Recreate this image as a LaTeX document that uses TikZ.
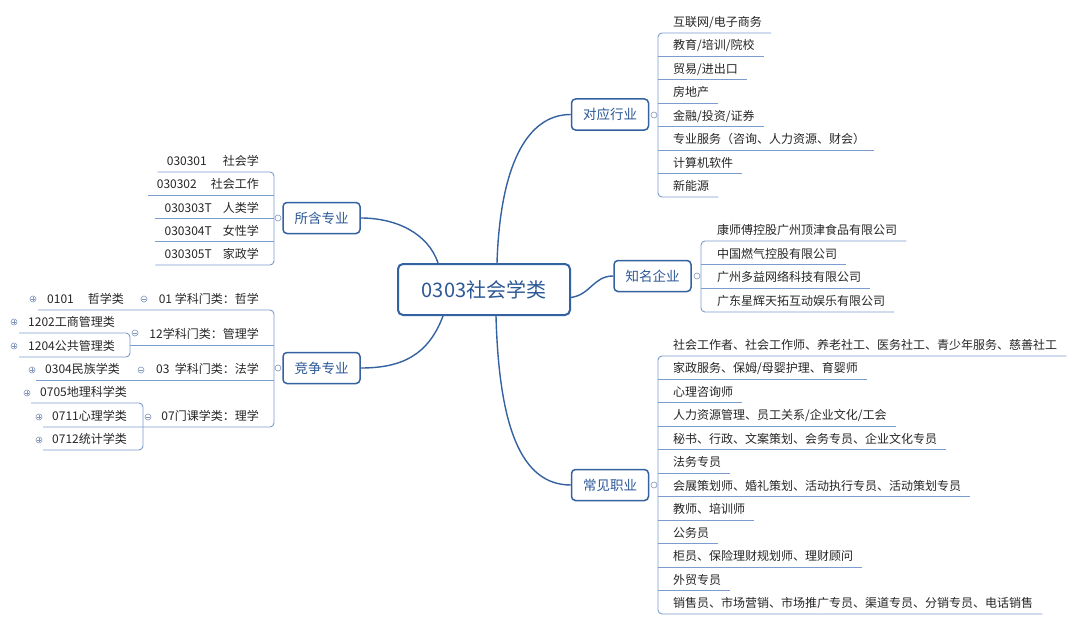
\documentclass[tikz,border=0pt]{standalone}
\usepackage{fontspec}
\setmainfont{Noto Sans CJK SC}
\usetikzlibrary{positioning,calc}
\definecolor{rootcolor}{RGB}{44,88,150}
\definecolor{branchcolor}{RGB}{52,98,160}
\definecolor{linecolor}{RGB}{122,156,206}
\definecolor{markcolor}{RGB}{128,150,186}

\begin{document}
\begin{tikzpicture}[x=1pt, y=-1pt,
    root/.style={
        rectangle, draw=branchcolor, line width=2pt, rounded corners=5pt,
        minimum width=172pt, minimum height=51pt, fill=white,
        text=rootcolor, font=\fontsize{20}{24}\selectfont
    },
    branch/.style={
        rectangle, draw=branchcolor, line width=1.5pt, rounded corners=4pt,
        minimum width=77pt, minimum height=31pt, fill=white,
        text=rootcolor, font=\fontsize{13.5}{16}\selectfont
    },
    leaf/.style={inner xsep=9pt, inner ysep=0pt, text=black!85, font=\fontsize{12}{14}\selectfont},
    mainlink/.style={draw=branchcolor, line width=1.4pt},
    underline/.style={draw=linecolor, line width=0.9pt},
    bracket/.style={underline, rounded corners=4pt},
    toggle/.style={circle, draw=markcolor, fill=white, inner sep=0pt, minimum size=6pt, line width=0.6pt},
    minustoggle/.style={toggle, path picture={
        \draw[markcolor, line width=0.5pt] ([xshift=-1.6pt]path picture bounding box.center) -- ([xshift=1.6pt]path picture bounding box.center);}},
    plustoggle/.style={toggle, path picture={
        \draw[markcolor, line width=0.5pt] ([xshift=-1.6pt]path picture bounding box.center) -- ([xshift=1.6pt]path picture bounding box.center);
        \draw[markcolor, line width=0.5pt] ([yshift=-1.6pt]path picture bounding box.center) -- ([yshift=1.6pt]path picture bounding box.center);}}
]
\useasboundingbox (0,0) rectangle (1080,626);
\fill[white] (0,0) rectangle (1080,626);

% Central topic and main branches
\node[root] (discipline) at (484, 289.5) {0303社会学类};
\node[branch] (major) at (321.5, 218) {所含专业};
\node[branch] (contest) at (321.5, 368) {竞争专业};
\node[branch] (industry) at (610, 114.5) {对应行业};
\node[branch] (company) at (652.5, 276) {知名企业};
\node[branch] (career) at (610, 485) {常见职业};

\draw[mainlink] ([xshift=13pt]discipline.north) .. controls +(3,-95) and +(-45,0) .. (industry.west);
\draw[mainlink] ([yshift=-8pt]discipline.east) .. controls +(20,-3) and +(-20,0) .. (company.west);
\draw[mainlink] ([xshift=12pt]discipline.south) .. controls +(3,110) and +(-50,0) .. (career.west);
\draw[mainlink] ([xshift=-46pt]discipline.north) .. controls +(-10,-30) and +(35,0) .. (major.east);
\draw[mainlink] ([xshift=-41pt]discipline.south) .. controls +(-15,40) and +(40,0) .. (contest.east);

% Industries
\foreach \txt [count=\i from 0] in {互联网/电子商务, 教育/培训/院校, 贸易/进出口, 房地产,
        金融/投资/证券, 专业服务（咨询、人力资源、财会）, 计算机软件, 新能源} {
    \coordinate (ind-u\i) at (658, 33+23.43*\i);
    \node[leaf, anchor=base west] (ind\i) at (664, 26.5+23.43*\i) {\txt};
}
\foreach \i in {1,...,6}
    \draw[underline] (ind-u\i) -- (ind\i.east |- ind-u\i);
\draw[bracket] (ind0.east |- ind-u0) -- (ind-u0) -- (ind-u7) -- (ind7.east |- ind-u7);

% Companies
\foreach \txt [count=\i from 0] in {康师傅控股广州顶津食品有限公司, 中国燃气控股有限公司,
        广州多益网络科技有限公司, 广东星辉天拓互动娱乐有限公司} {
    \coordinate (com-u\i) at (701, 241+23.67*\i);
    \node[leaf, anchor=base west] (com\i) at (708, 234.5+23.67*\i) {\txt};
}
\foreach \i in {1,2}
    \draw[underline] (com-u\i) -- (com\i.east |- com-u\i);
\draw[bracket] (com0.east |- com-u0) -- (com-u0) -- (com-u3) -- (com3.east |- com-u3);

% Careers
\foreach \txt [count=\i from 0] in {社会工作者、社会工作师、养老社工、医务社工、青少年服务、慈善社工,
        家政服务、保姆/母婴护理、育婴师, 心理咨询师, 人力资源管理、员工关系/企业文化/工会,
        秘书、行政、文案策划、会务专员、企业文化专员, 法务专员,
        会展策划师、婚礼策划、活动执行专员、活动策划专员, 教师、培训师, 公务员,
        柜员、保险理财规划师、理财顾问, 外贸专员,
        销售员、市场营销、市场推广专员、渠道专员、分销专员、电话销售} {
    \coordinate (car-u\i) at (658, 356+23.45*\i);
    \node[leaf, anchor=base west] (car\i) at (664, 349.5+23.45*\i) {\txt};
}
\foreach \i in {1,...,10}
    \draw[underline] (car-u\i) -- (car\i.east |- car-u\i);
\draw[bracket] (car0.east |- car-u0) -- (car-u0) -- (car-u11) -- (car11.east |- car-u11);

% Majors
\foreach \txt [count=\i from 0] in {030301\hspace{16pt}社会学, 030302\hspace{14pt}社会工作,
        030303T\hspace{11pt}人类学, 030304T\hspace{11pt}女性学, 030305T\hspace{11pt}家政学} {
    \coordinate (maj-u\i) at (274, 172+23.25*\i);
    \node[leaf, anchor=base east] (maj\i) at (268, 165.5+23.25*\i) {\txt};
}
\foreach \i in {1,2,3}
    \draw[underline] (maj-u\i) -- (maj\i.west |- maj-u\i);
\draw[bracket] (maj0.west |- maj-u0) -- (maj-u0) -- (maj-u4) -- (maj4.west |- maj-u4);

% Competing majors
\node[leaf, anchor=base east] (cat01) at (268, 303.5) {01 学科门类：哲学};
\node[leaf, anchor=base east] (cat12) at (268, 338.5) {12学科门类：管理学};
\node[leaf, anchor=base east] (cat03) at (268, 373.5) {03\ \ 学科门类：法学};
\node[leaf, anchor=base east] (cat07) at (268, 420.5) {07门课学类：理学};
\coordinate (cat-u1) at (274, 310);
\coordinate (cat-u2) at (274, 345);
\coordinate (cat-u3) at (274, 380);
\coordinate (cat-u4) at (274, 427);

\node[leaf, anchor=base west] (g0101) at (38, 303.5) {0101\hspace{14pt}哲学类};
\node[leaf, anchor=base west] (g1202) at (19, 326.5) {1202工商管理类};
\node[leaf, anchor=base west] (g1204) at (19, 350.5) {1204公共管理类};
\node[leaf, anchor=base west] (g0304) at (36, 373.5) {0304民族学类};
\node[leaf, anchor=base west] (g0705) at (31, 396.5) {0705地理科学类};
\node[leaf, anchor=base west] (g0711) at (43, 420.5) {0711心理学类};
\node[leaf, anchor=base west] (g0712) at (43, 443.5) {0712统计学类};
\coordinate (b12-top) at (130, 333);
\coordinate (b12-mid) at (130, 345);
\coordinate (b12-bot) at (130, 357);
\coordinate (b07-top) at (143, 403);
\coordinate (b07-bot) at (143, 450);

\draw[bracket] (g0101.west |- cat-u1) -- (cat-u1) -- (cat-u4) -- (g0711.west |- cat-u4);
\draw[underline] (cat-u2) -- (b12-mid);
\draw[underline] (cat-u3) -- (g0304.west |- cat-u3);
\draw[bracket] (g1202.west |- b12-top) -- (b12-top) -- (b12-bot) -- (g1204.west |- b12-bot);
\draw[bracket] (g0705.west |- b07-top) -- (b07-top) -- (b07-bot) -- (g0712.west |- b07-bot);

% Collapse markers
\foreach \p [count=\k] in {(278,218), (278,368), (654,115), (697,276), (654,485)}
    \node[toggle] (bt\k) at \p {};
\foreach \p [count=\k] in {(144,299), (135,333), (141,370), (148,417)}
    \node[minustoggle] (mt\k) at \p {};
\foreach \p [count=\k] in {(33,299), (14,322), (14,346), (32,370), (27,393), (39,417), (39,440)}
    \node[plustoggle] (pt\k) at \p {};

\end{tikzpicture}
\end{document}
